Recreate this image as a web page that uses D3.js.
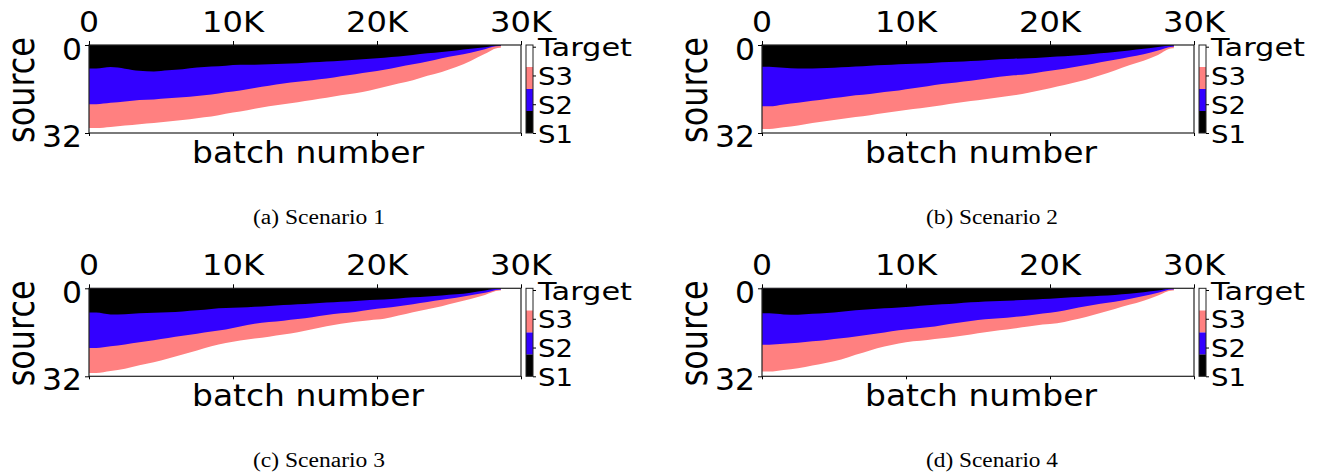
<!DOCTYPE html>
<html>
<head>
<meta charset="utf-8">
<script src="https://cdn.jsdelivr.net/npm/d3@7"></script>
<style>
  body { margin: 0; background: #fff; }
  text { font-family: "DejaVu Sans", sans-serif; fill: #000; }
  .caption { font-family: "Liberation Serif", "Times New Roman", serif; }
</style>
</head>
<body>
<div id="chart"></div>
<script>
// batch buckets (start of each 1K bucket), data stops at lastBatch
const batchStart = d3.range(0, 29000, 1000);
const lastBatch = 28600;

const xTicks = [0, 10000, 20000, 30000];
const xTickLabels = ["0", "10K", "20K", "30K"];
const yTicks = [0, 32];
const sources = ["S1", "S2", "S3", "Target"];
const sourceColors = ["#000000", "#3300ff", "#ff8080", "#ffffff"];

// lower edge (source row) of S1 / S2 / S3 bands in each bucket
const s1Edge_a = [8.5, 8.0, 8.6, 9.4, 9.6, 9.2, 8.8, 8.2, 7.8, 7.5, 7.2, 7.2, 7.0, 6.8, 6.6, 6.3, 6.0, 5.7, 5.4, 5.0, 4.6, 4.2, 3.6, 3.0, 2.5, 2.0, 1.4, 0.8, 0.2];
const s2Edge_a = [21.5, 21.0, 20.5, 20.0, 19.8, 19.4, 19.0, 18.5, 18.0, 17.2, 16.5, 15.6, 14.8, 14.0, 13.4, 12.8, 12.2, 11.4, 10.6, 9.8, 9.0, 8.0, 7.0, 6.0, 4.8, 3.8, 2.8, 1.5, 0.4];
const s3Edge_a = [30.2, 29.8, 29.3, 28.8, 28.4, 27.8, 27.3, 26.6, 26.0, 25.0, 24.2, 23.2, 22.3, 21.5, 20.8, 20.0, 19.2, 18.3, 17.5, 16.5, 15.3, 14.0, 12.8, 11.2, 9.8, 8.0, 5.8, 3.2, 1.0];

const s1Edge_b = [7.9, 8.3, 8.5, 8.5, 8.4, 8.1, 7.8, 7.5, 7.3, 7.0, 6.8, 6.6, 6.3, 6.1, 5.8, 5.5, 5.2, 5.0, 4.8, 4.5, 4.2, 3.9, 3.5, 3.0, 2.5, 2.0, 1.4, 0.7, 0.2];
const s2Edge_b = [22.3, 21.6, 21.0, 20.3, 19.6, 19.0, 18.3, 17.8, 17.1, 16.5, 15.7, 15.0, 14.2, 13.6, 13.0, 12.3, 11.5, 11.0, 10.5, 9.7, 9.0, 8.2, 7.3, 6.3, 5.4, 4.4, 3.4, 2.0, 0.6];
const s3Edge_b = [30.5, 29.9, 29.3, 28.4, 27.6, 26.9, 26.2, 25.5, 24.7, 24.0, 23.3, 22.6, 21.9, 21.1, 20.4, 19.7, 19.0, 18.3, 17.4, 16.3, 15.1, 13.9, 12.6, 11.0, 9.3, 7.4, 5.7, 3.6, 1.2];

const s1Edge_c = [8.8, 9.5, 9.4, 9.1, 8.9, 8.7, 8.4, 8.0, 7.5, 7.2, 7.0, 6.7, 6.4, 6.1, 5.8, 5.5, 5.2, 4.9, 4.6, 4.3, 4.1, 3.7, 3.3, 3.0, 2.6, 2.2, 1.6, 0.8, 0.2];
const s2Edge_c = [21.7, 21.1, 20.4, 19.6, 18.9, 18.1, 17.3, 16.5, 15.7, 15.0, 13.9, 12.9, 12.3, 11.8, 11.2, 10.5, 9.7, 9.1, 8.6, 7.8, 7.2, 6.5, 5.8, 5.0, 4.2, 3.4, 2.5, 1.6, 0.5];
const s3Edge_c = [30.8, 30.1, 29.3, 28.0, 26.9, 25.5, 24.1, 22.6, 21.1, 19.9, 19.0, 18.3, 17.6, 16.8, 16.0, 14.9, 13.8, 12.9, 12.2, 11.6, 11.1, 9.9, 8.7, 7.6, 6.5, 5.2, 3.9, 2.4, 0.8];

const s1Edge_d = [9.1, 9.5, 9.6, 9.3, 9.0, 8.5, 8.0, 7.6, 7.3, 7.0, 6.6, 6.2, 5.8, 5.5, 5.1, 4.8, 4.6, 4.4, 4.2, 3.9, 3.6, 3.3, 3.0, 2.7, 2.4, 2.0, 1.4, 0.8, 0.2];
const s2Edge_d = [20.5, 20.2, 19.8, 19.3, 18.8, 18.2, 17.5, 16.8, 16.1, 15.3, 14.7, 14.2, 13.4, 12.6, 11.9, 11.3, 10.9, 10.4, 9.9, 9.2, 8.5, 7.5, 6.5, 5.6, 4.9, 3.9, 2.8, 1.6, 0.4];
const s3Edge_d = [30.3, 29.7, 29.1, 28.1, 27.1, 25.9, 24.2, 22.6, 21.2, 20.1, 19.3, 18.8, 18.2, 17.5, 16.8, 16.0, 15.3, 14.6, 13.9, 13.2, 12.7, 11.6, 10.4, 9.0, 7.5, 6.0, 4.5, 2.6, 0.8];

const captions = ["(a) Scenario 1", "(b) Scenario 2", "(c) Scenario 3", "(d) Scenario 4"];

const panels = [
  {edges: [s1Edge_a, s2Edge_a, s3Edge_a], dx: 89, dy: 45},
  {edges: [s1Edge_b, s2Edge_b, s3Edge_b], dx: 762, dy: 45},
  {edges: [s1Edge_c, s2Edge_c, s3Edge_c], dx: 89, dy: 288.3},
  {edges: [s1Edge_d, s2Edge_d, s3Edge_d], dx: 762, dy: 288.3}
];

const W = 1320, H = 474;
const width = 432, height = 88;

const svg = d3.select("#chart").append("svg")
  .attr("width", W)
  .attr("height", H);

const x = d3.scaleLinear().domain([0, 30000]).range([0, width]);
const y = d3.scaleLinear().domain([0, 32]).range([0, height]);

function addText(g, opts) {
  const t = g.append("text")
    .attr("x", opts.x || 0).attr("y", opts.y || 0)
    .attr("text-anchor", opts.anchor || "start")
    .attr("font-size", opts.size)
    .text(opts.text);
  if (opts.len) t.attr("textLength", opts.len).attr("lengthAdjust", "spacingAndGlyphs");
  if (opts.transform) t.attr("transform", opts.transform);
  if (opts.cls) t.attr("class", opts.cls);
  return t;
}

panels.forEach((p, i) => {
  const g = svg.append("g").attr("transform", `translate(${p.dx},${p.dy})`);

  // S3 drawn first, S1 on top; each band fills from source 0 down to its lower edge
  [2, 1, 0].forEach(s => {
    const edge = p.edges[s];
    const pts = [{b: 0, v: edge[0]}]
      .concat(batchStart.map((b, k) => ({b: b + 500, v: edge[k]})))
      .concat([{b: lastBatch, v: edge[edge.length - 1]}]);
    const area = d3.area()
      .x(d => x(d.b))
      .y0(y(0))
      .y1(d => y(d.v))
      .curve(d3.curveMonotoneX);
    g.append("path")
      .datum(pts)
      .attr("d", area)
      .attr("fill", sourceColors[s]);
  });

  // frame
  g.append("rect")
    .attr("width", width).attr("height", height)
    .attr("fill", "none").attr("stroke", "#222").attr("stroke-width", 1.2);

  const top = g.append("g")
    .call(d3.axisTop(x).tickValues(xTicks).tickSize(4).tickFormat(""));
  top.select(".domain").remove();

  const bottom = g.append("g")
    .attr("transform", `translate(0,${height})`)
    .call(d3.axisBottom(x).tickValues(xTicks).tickSize(3).tickFormat(""));
  bottom.select(".domain").remove();

  const left = g.append("g")
    .call(d3.axisLeft(y).tickValues(yTicks).tickSize(4).tickFormat(""));
  left.select(".domain").remove();

  xTicks.forEach((t, j) => {
    addText(g, {x: x(t), y: -13, anchor: "middle", size: 29,
      len: j === 0 ? 20 : 62, text: xTickLabels[j]});
  });

  addText(g, {x: -7, y: y(0) + 15, anchor: "end", size: 30, len: 20, text: "0"});
  addText(g, {x: -7, y: y(32) + 14, anchor: "end", size: 30, len: 40, text: "32"});

  addText(g, {transform: `translate(-55.5,${height / 2 + 1}) rotate(-90)`,
    anchor: "middle", size: 37, len: 106, text: "source"});

  addText(g, {x: width / 2 + 3, y: 118, anchor: "middle", size: 30,
    len: 232, text: "batch number"});

  // colorbar
  const cb = g.append("g").attr("transform", `translate(${width + 5},0)`);
  const cbW = 7;
  const cy = d3.scaleBand().domain(d3.range(sources.length).reverse()).range([0, height]);
  sources.forEach((s, j) => {
    cb.append("rect")
      .attr("x", 0).attr("y", cy(j))
      .attr("width", cbW).attr("height", cy.bandwidth())
      .attr("fill", sourceColors[j]);
  });
  cb.append("rect")
    .attr("width", cbW).attr("height", height)
    .attr("fill", "none").attr("stroke", "#222").attr("stroke-width", 1);

  const ct = d3.scaleLinear().domain([0, 3]).range([height, 1.7]);
  const cAxis = cb.append("g")
    .attr("transform", `translate(${cbW},0)`)
    .call(d3.axisRight(ct).tickValues([0, 1, 2, 3]).tickSize(3).tickFormat(""));
  cAxis.select(".domain").remove();
  sources.forEach((s, j) => {
    addText(cb, {x: cbW + 5, y: ct(j) + 9.5, size: 25.5,
      len: s === "Target" ? 94 : 35, text: s});
  });

  addText(g, {x: 230, y: 178.5, anchor: "middle", size: 20, len: 132,
    text: captions[i], cls: "caption"});
});
</script>
</body>
</html>
